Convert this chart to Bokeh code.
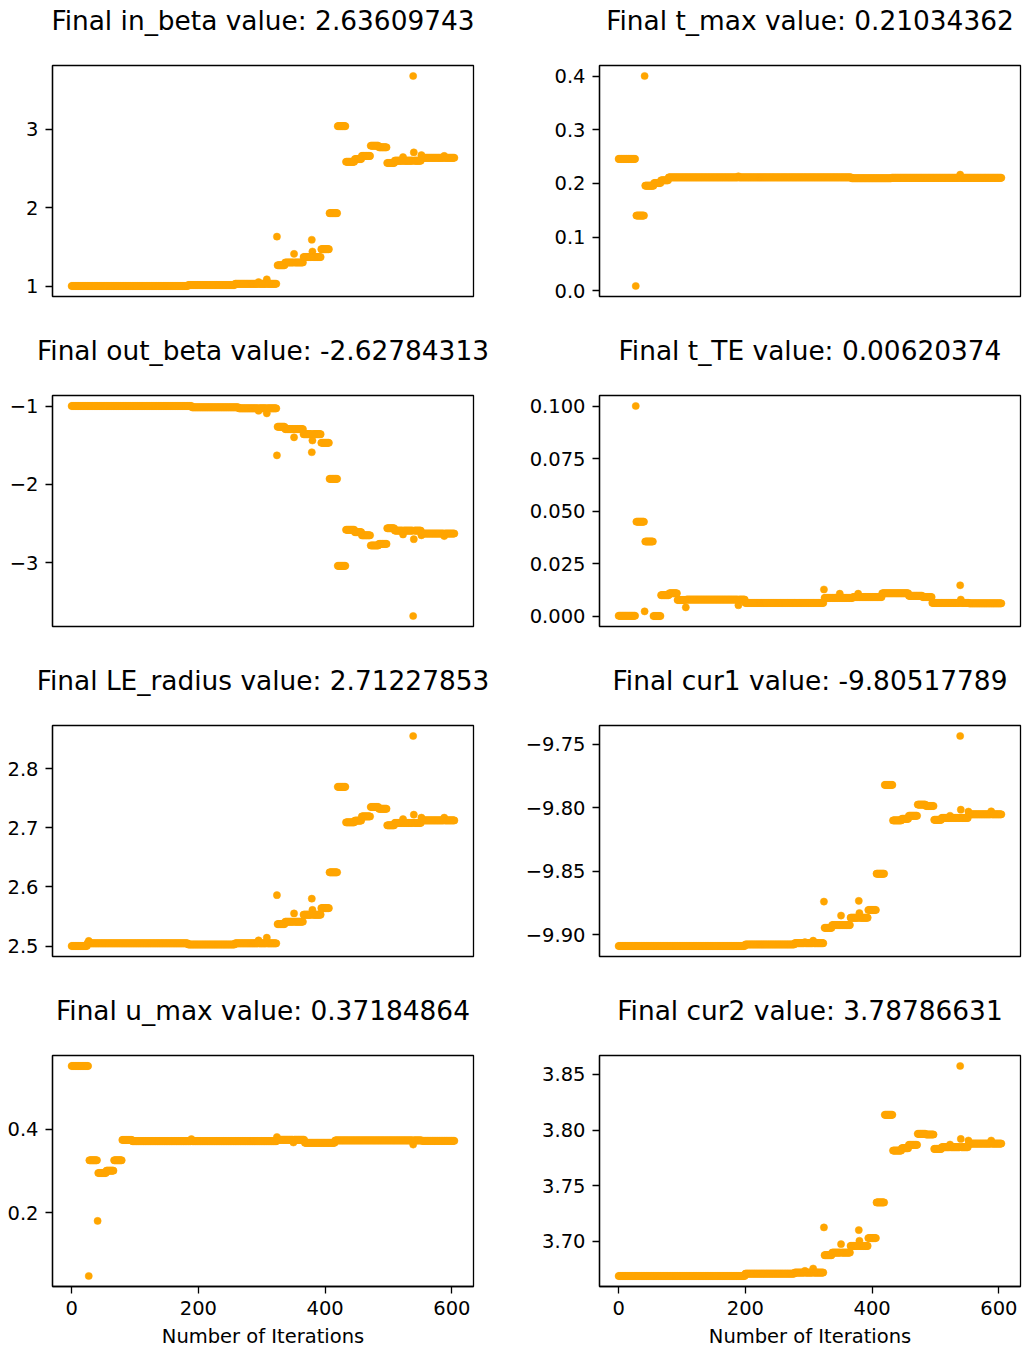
import numpy as np
from bokeh.plotting import figure
from bokeh.layouts import column, row
from bokeh.models import Range1d, FixedTicker, Title
from bokeh.embed import file_html
from bokeh.resources import INLINE

# Optimisation history: 605 iterations (0..604).
N_ITER = 605
iterations = np.arange(N_ITER)

# Each history is stored as runs of (first iteration, value) -- the value holds
# until the next run starts -- plus single-iteration excursions.
in_beta_runs = [(0, 1.000), (184, 1.012), (258, 1.028), (325, 1.265), (337, 1.300),
                (366, 1.370), (394, 1.470), (407, 1.930), (420, 3.040), (433, 2.585),
                (447, 2.620), (458, 2.660), (472, 2.790), (485, 2.770), (498, 2.570),
                (510, 2.600), (553, 2.63609743)]
in_beta_spikes = [(295, 1.050), (308, 1.085), (324, 1.630), (351, 1.410), (379, 1.590),
                  (380, 1.440), (523, 2.645), (539, 3.680), (540, 2.705), (552, 2.670),
                  (588, 2.660)]

t_max_runs = [(0, 0.2455), (28, 0.1400), (42, 0.1957), (56, 0.2006), (67, 0.2056),
              (79, 0.2110), (368, 0.2095), (431, 0.21034362)]
t_max_spikes = [(27, 0.0087), (41, 0.4000), (189, 0.2131), (539, 0.2162)]

out_beta_runs = [(0, -1.000), (190, -1.017), (264, -1.030), (325, -1.265), (337, -1.295),
                 (366, -1.360), (394, -1.470), (407, -1.930), (420, -3.040), (433, -2.580),
                 (447, -2.610), (458, -2.650), (472, -2.780), (485, -2.760), (498, -2.560),
                 (510, -2.590), (553, -2.62784313)]
out_beta_spikes = [(295, -1.060), (308, -1.094), (324, -1.630), (351, -1.400), (379, -1.590),
                   (380, -1.440), (523, -2.640), (539, -3.680), (540, -2.700), (552, -2.650),
                   (588, -2.660)]

t_TE_runs = [(0, 0.0003), (28, 0.0450), (42, 0.0356), (55, 0.0002), (67, 0.0101),
             (80, 0.0110), (93, 0.0078), (107, 0.0080), (200, 0.0064), (325, 0.0088),
             (370, 0.0092), (416, 0.0110), (458, 0.0098), (480, 0.0092), (495, 0.0064),
             (553, 0.00620374)]
t_TE_spikes = [(27, 0.1000), (41, 0.0024), (106, 0.0043), (189, 0.0053), (324, 0.0128),
               (349, 0.0108), (378, 0.0108), (539, 0.0148), (540, 0.0080)]

LE_radius_runs = [(0, 2.5000), (25, 2.5045), (184, 2.5025), (258, 2.5045), (325, 2.5370),
                  (337, 2.5410), (366, 2.5530), (394, 2.5640), (407, 2.6245), (420, 2.7690),
                  (433, 2.7090), (447, 2.7120), (458, 2.7190), (472, 2.7350), (485, 2.7320),
                  (498, 2.7040), (510, 2.7080), (553, 2.71227853)]
LE_radius_spikes = [(27, 2.5085), (295, 2.5095), (308, 2.5140), (324, 2.5860), (351, 2.5550),
                    (379, 2.5800), (380, 2.5610), (523, 2.7145), (539, 2.8550), (540, 2.7220),
                    (552, 2.7170), (588, 2.7170)]

cur1_runs = [(0, -9.9090), (200, -9.9078), (278, -9.9068), (325, -9.8947), (337, -9.8925),
             (366, -9.8867), (394, -9.8806), (407, -9.8520), (420, -9.7820), (433, -9.8100),
             (447, -9.8087), (458, -9.8063), (472, -9.7975), (485, -9.7986), (498, -9.8095),
             (510, -9.8080), (553, -9.80517789)]
cur1_spikes = [(294, -9.9060), (307, -9.9048), (324, -9.8740), (351, -9.8850), (379, -9.8734),
               (380, -9.8830), (523, -9.8063), (539, -9.7434), (540, -9.8015), (552, -9.8030),
               (588, -9.8028)]

u_max_runs = [(0, 0.5504), (28, 0.3256), (42, 0.2952), (55, 0.3008), (67, 0.3256),
              (80, 0.3740), (96, 0.3712), (325, 0.3744), (368, 0.3672), (416, 0.3728),
              (553, 0.37184864)]
u_max_spikes = [(27, 0.0496), (41, 0.1810), (189, 0.3760), (324, 0.3810), (350, 0.3680),
                (539, 0.3630)]

cur2_runs = [(0, 3.6690), (200, 3.6711), (278, 3.6721), (325, 3.6877), (337, 3.6900),
             (366, 3.6960), (394, 3.7030), (407, 3.7350), (420, 3.8137), (433, 3.7816),
             (447, 3.7837), (458, 3.7867), (472, 3.7966), (485, 3.7960), (498, 3.7831),
             (510, 3.7846), (553, 3.78786631)]
cur2_spikes = [(294, 3.6736), (307, 3.6757), (324, 3.7126), (351, 3.6976), (379, 3.7102),
               (380, 3.7006), (523, 3.7870), (539, 3.8575), (540, 3.7920), (552, 3.7906),
               (588, 3.7906)]

# Axis ticks and their labels
in_beta_ticks, in_beta_labels = [1, 2, 3], ["1", "2", "3"]
t_max_ticks, t_max_labels = [0.0, 0.1, 0.2, 0.3, 0.4], ["0.0", "0.1", "0.2", "0.3", "0.4"]
out_beta_ticks, out_beta_labels = [-3, -2, -1], ["\u22123", "\u22122", "\u22121"]
t_TE_ticks = [0.0, 0.025, 0.05, 0.075, 0.1]
t_TE_labels = ["0.000", "0.025", "0.050", "0.075", "0.100"]
LE_radius_ticks, LE_radius_labels = [2.5, 2.6, 2.7, 2.8], ["2.5", "2.6", "2.7", "2.8"]
cur1_ticks = [-9.9, -9.85, -9.8, -9.75]
cur1_labels = ["\u22129.90", "\u22129.85", "\u22129.80", "\u22129.75"]
u_max_ticks, u_max_labels = [0.2, 0.4], ["0.2", "0.4"]
cur2_ticks, cur2_labels = [3.70, 3.75, 3.80, 3.85], ["3.70", "3.75", "3.80", "3.85"]
x_ticks, x_labels = [0, 200, 400, 600], ["0", "200", "400", "600"]

panels = [
    ("in_beta", "2.63609743", in_beta_runs, in_beta_spikes, in_beta_ticks, in_beta_labels),
    ("t_max", "0.21034362", t_max_runs, t_max_spikes, t_max_ticks, t_max_labels),
    ("out_beta", "-2.62784313", out_beta_runs, out_beta_spikes, out_beta_ticks, out_beta_labels),
    ("t_TE", "0.00620374", t_TE_runs, t_TE_spikes, t_TE_ticks, t_TE_labels),
    ("LE_radius", "2.71227853", LE_radius_runs, LE_radius_spikes, LE_radius_ticks, LE_radius_labels),
    ("cur1", "-9.80517789", cur1_runs, cur1_spikes, cur1_ticks, cur1_labels),
    ("u_max", "0.37184864", u_max_runs, u_max_spikes, u_max_ticks, u_max_labels),
    ("cur2", "3.78786631", cur2_runs, cur2_spikes, cur2_ticks, cur2_labels),
]

FONT = "DejaVu Sans"
ORANGE = "#FFA500"
FRAME_W, FRAME_H = 421, 231


def expand(runs, spikes):
    y = np.empty(N_ITER)
    bounds = [s for s, _ in runs] + [N_ITER]
    for k, (start, val) in enumerate(runs):
        y[start:bounds[k + 1]] = val
    for it, val in spikes:
        y[it] = val
    return y


def padded(lo, hi, frac=0.05):
    d = (hi - lo) * frac
    return Range1d(lo - d, hi + d)


def style_axis(ax, ticks, labels):
    ax.ticker = FixedTicker(ticks=ticks)
    ax.major_label_overrides = {t: s for t, s in zip(ticks, labels)}
    ax.major_label_text_font = FONT
    ax.major_label_text_font_size = "19.5px"
    ax.major_label_text_color = "black"
    ax.major_tick_in = 0
    ax.major_tick_out = 7
    ax.minor_tick_in = 0
    ax.minor_tick_out = 0
    ax.axis_line_color = "black"
    ax.axis_line_width = 1.3
    ax.major_tick_line_color = "black"
    ax.major_tick_line_width = 1.3


def make_panel(idx, name, final, runs, spikes, ticks, labels):
    col = idx % 2
    bottom = idx >= 6
    y = expand(runs, spikes)
    left_pad, right_pad = (52, 47) if col == 0 else (79, 3)
    bottom_pad = 64 if bottom else 34
    p = figure(title=None, width=left_pad + FRAME_W + right_pad, height=65 + FRAME_H + bottom_pad,
               x_range=padded(0, N_ITER - 1), y_range=padded(y.min(), y.max()),
               output_backend="svg", toolbar_location=None,
               min_border_left=left_pad, min_border_right=right_pad,
               min_border_top=65, min_border_bottom=bottom_pad)
    # blank strip that keeps the heading clear of the frame
    p.add_layout(Title(text=" ", text_font_size="1px", standoff=26), "above")
    p.add_layout(Title(text=f"Final {name} value: {final}", align="center", standoff=2,
                       text_font=FONT, text_font_size="26.4px", text_font_style="normal",
                       text_color="black"), "above")
    p.xgrid.visible = False
    p.ygrid.visible = False
    p.outline_line_color = "black"
    p.outline_line_width = 1.3
    p.outline_line_alpha = 1.0
    p.background_fill_color = "white"
    p.border_fill_color = "white"

    style_axis(p.yaxis[0], ticks, labels)
    p.yaxis.major_label_standoff = 7
    if bottom:
        style_axis(p.xaxis[0], x_ticks, x_labels)
        p.xaxis.major_label_standoff = 7
        p.xaxis.axis_label = "Number of Iterations"
        p.xaxis.axis_label_text_font = FONT
        p.xaxis.axis_label_text_font_size = "19.5px"
        p.xaxis.axis_label_text_font_style = "normal"
        p.xaxis.axis_label_text_color = "black"
        p.xaxis.axis_label_standoff = 7
    else:
        p.xaxis.visible = False

    p.scatter(iterations, y, size=7.2, fill_color=ORANGE, line_color=ORANGE, line_width=0.5)
    return p


figs = [make_panel(i, *spec) for i, spec in enumerate(panels)]
layout = column(*[row(figs[2 * r], figs[2 * r + 1]) for r in range(4)])

open("out.html", "w").write(file_html(layout, INLINE))
